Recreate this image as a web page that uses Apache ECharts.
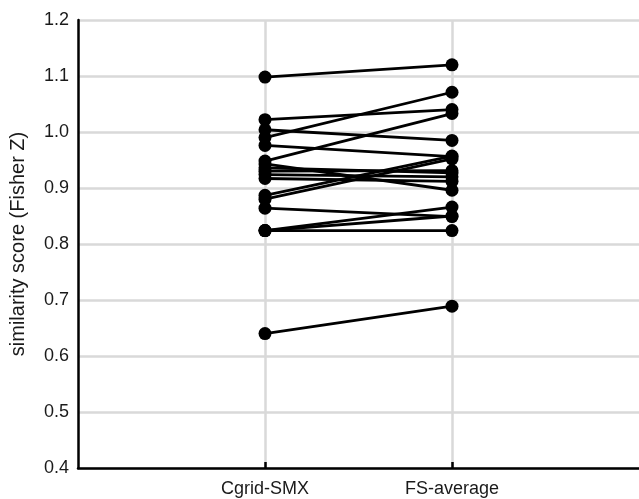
<!DOCTYPE html>
<html>
<head>
<meta charset="utf-8">
<script src="https://cdn.jsdelivr.net/npm/echarts@6/dist/echarts.min.js"></script>
<style>
html,body{margin:0;padding:0;background:#fff;}
#chart{width:639px;height:499px;}
</style>
</head>
<body>
<div id="chart"></div>
<script>
const categories = ['', 'Cgrid-SMX', 'FS-average', ''];
const cgridSMX = [1.098, 1.022, 1.004, 0.990, 0.976, 0.948, 0.943, 0.936, 0.930, 0.924, 0.917, 0.887, 0.880, 0.864, 0.824, 0.824, 0.824, 0.640];
const fsAverage = [1.120, 1.040, 0.985, 1.071, 0.956, 1.033, 0.896, 0.927, 0.931, 0.920, 0.912, 0.957, 0.952, 0.849, 0.866, 0.850, 0.824, 0.689];
const yTicks = [0.4, 0.5, 0.6, 0.7, 0.8, 0.9, 1.0, 1.1, 1.2];
const yName = 'similarity score (Fisher Z)';

const series = cgridSMX.map((v, i) => ({
  type: 'line',
  data: [[categories[1], v], [categories[2], fsAverage[i]]],
  symbol: 'circle',
  symbolSize: 13,
  color: '#000',
  lineStyle: { color: '#000', width: 2.8 },
  itemStyle: { color: '#000' },
  emphasis: { disabled: true },
  silent: true,
  z: 3
}));

const chart = echarts.init(document.getElementById('chart'), null, { renderer: 'canvas' });
chart.setOption({
  animation: false,
  backgroundColor: '#fff',
  textStyle: { fontFamily: 'Liberation Sans, Arial, sans-serif' },
  grid: { left: 74, right: -4, top: 20, bottom: 31, containLabel: false },
  xAxis: {
    type: 'category',
    data: categories,
    boundaryGap: false,
    axisLine: { lineStyle: { color: '#000', width: 2.5 } },
    axisTick: {
      show: true, inside: true, length: 6,
      lineStyle: { color: '#000', width: 2.5 },
      interval: (idx) => idx === 1 || idx === 2
    },
    axisLabel: {
      color: '#1a1a1a', fontSize: 18, margin: 12,
      interval: (idx) => idx === 1 || idx === 2,
      fontFamily: 'Liberation Sans, Arial, sans-serif'
    },
    splitLine: {
      show: true,
      interval: (idx) => idx === 1 || idx === 2,
      lineStyle: { color: '#d9d9d9', width: 2.5 }
    }
  },
  yAxis: {
    type: 'value',
    min: yTicks[0],
    max: yTicks[yTicks.length - 1],
    interval: 0.1,
    name: yName,
    nameLocation: 'middle',
    nameGap: 50,
    nameTextStyle: { color: '#1a1a1a', fontSize: 20, fontFamily: 'Liberation Sans, Arial, sans-serif' },
    axisLine: { show: true, lineStyle: { color: '#000', width: 2.5 } },
    axisTick: { show: false },
    axisLabel: {
      color: '#1a1a1a', fontSize: 18, margin: 9,
      formatter: (v) => v.toFixed(1),
      fontFamily: 'Liberation Sans, Arial, sans-serif'
    },
    splitLine: { show: true, lineStyle: { color: '#d9d9d9', width: 2.5 } }
  },
  series: series
});
</script>
</body>
</html>
